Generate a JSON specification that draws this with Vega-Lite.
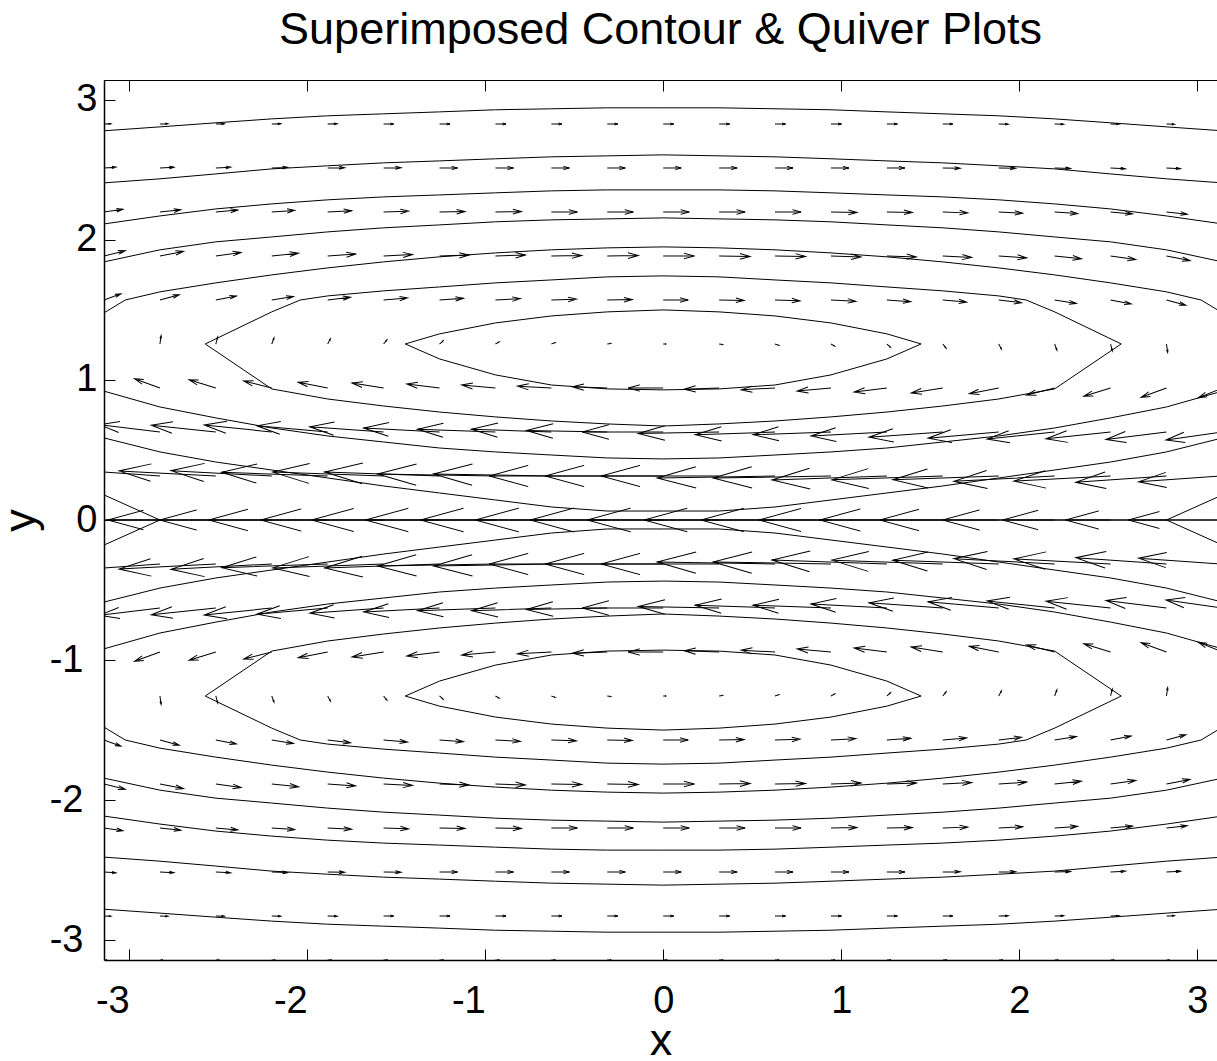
{
"$schema":"https://vega.github.io/schema/vega-lite/v6.json",
"width":1113,"height":880,"autosize":"none",
"padding":{"left":104,"top":80,"right":0,"bottom":101},
"background":"white",
"title":{"text":"Superimposed Contour & Quiver Plots","font":"Liberation Sans","fontSize":45,"fontWeight":"normal","color":"black","baseline":"alphabetic","offset":35,"dy":44,"anchor":"middle"},
"config":{"view":{"stroke":null}},
"datasets":{
"contours":[
{"c":"o1u","i":0,"x":-3.1416,"y":2.779},{"c":"o1u","i":1,"x":-2.8274,"y":2.807},{"c":"o1u","i":2,"x":-2.5133,"y":2.836},{"c":"o1u","i":3,"x":-2.1991,"y":2.864},{"c":"o1u","i":4,"x":-1.885,"y":2.886},{"c":"o1u","i":5,"x":-1.5708,"y":2.9},{"c":"o1u","i":6,"x":-1.2566,"y":2.914},{"c":"o1u","i":7,"x":-0.9425,"y":2.929},{"c":"o1u","i":8,"x":-0.6283,"y":2.936},{"c":"o1u","i":9,"x":-0.3142,"y":2.943},{"c":"o1u","i":10,"x":0,"y":2.943},{"c":"o1u","i":11,"x":0.3142,"y":2.943},{"c":"o1u","i":12,"x":0.6283,"y":2.936},{"c":"o1u","i":13,"x":0.9425,"y":2.929},{"c":"o1u","i":14,"x":1.2566,"y":2.914},{"c":"o1u","i":15,"x":1.5708,"y":2.9},{"c":"o1u","i":16,"x":1.885,"y":2.886},{"c":"o1u","i":17,"x":2.1991,"y":2.864},{"c":"o1u","i":18,"x":2.5133,"y":2.836},{"c":"o1u","i":19,"x":2.8274,"y":2.807},{"c":"o1u","i":20,"x":3.1416,"y":2.779},
{"c":"o1d","i":0,"x":-3.1416,"y":-2.779},{"c":"o1d","i":1,"x":-2.8274,"y":-2.807},{"c":"o1d","i":2,"x":-2.5133,"y":-2.836},{"c":"o1d","i":3,"x":-2.1991,"y":-2.864},{"c":"o1d","i":4,"x":-1.885,"y":-2.886},{"c":"o1d","i":5,"x":-1.5708,"y":-2.9},{"c":"o1d","i":6,"x":-1.2566,"y":-2.914},{"c":"o1d","i":7,"x":-0.9425,"y":-2.929},{"c":"o1d","i":8,"x":-0.6283,"y":-2.936},{"c":"o1d","i":9,"x":-0.3142,"y":-2.943},{"c":"o1d","i":10,"x":0,"y":-2.943},{"c":"o1d","i":11,"x":0.3142,"y":-2.943},{"c":"o1d","i":12,"x":0.6283,"y":-2.936},{"c":"o1d","i":13,"x":0.9425,"y":-2.929},{"c":"o1d","i":14,"x":1.2566,"y":-2.914},{"c":"o1d","i":15,"x":1.5708,"y":-2.9},{"c":"o1d","i":16,"x":1.885,"y":-2.886},{"c":"o1d","i":17,"x":2.1991,"y":-2.864},{"c":"o1d","i":18,"x":2.5133,"y":-2.836},{"c":"o1d","i":19,"x":2.8274,"y":-2.807},{"c":"o1d","i":20,"x":3.1416,"y":-2.779},
{"c":"o2u","i":0,"x":-3.1416,"y":2.407},{"c":"o2u","i":1,"x":-2.8274,"y":2.436},{"c":"o2u","i":2,"x":-2.5133,"y":2.471},{"c":"o2u","i":3,"x":-2.1991,"y":2.507},{"c":"o2u","i":4,"x":-1.885,"y":2.529},{"c":"o2u","i":5,"x":-1.5708,"y":2.55},{"c":"o2u","i":6,"x":-1.2566,"y":2.564},{"c":"o2u","i":7,"x":-0.9425,"y":2.579},{"c":"o2u","i":8,"x":-0.6283,"y":2.593},{"c":"o2u","i":9,"x":-0.3142,"y":2.6},{"c":"o2u","i":10,"x":0,"y":2.607},{"c":"o2u","i":11,"x":0.3142,"y":2.6},{"c":"o2u","i":12,"x":0.6283,"y":2.593},{"c":"o2u","i":13,"x":0.9425,"y":2.579},{"c":"o2u","i":14,"x":1.2566,"y":2.564},{"c":"o2u","i":15,"x":1.5708,"y":2.55},{"c":"o2u","i":16,"x":1.885,"y":2.529},{"c":"o2u","i":17,"x":2.1991,"y":2.507},{"c":"o2u","i":18,"x":2.5133,"y":2.471},{"c":"o2u","i":19,"x":2.8274,"y":2.436},{"c":"o2u","i":20,"x":3.1416,"y":2.407},
{"c":"o2d","i":0,"x":-3.1416,"y":-2.407},{"c":"o2d","i":1,"x":-2.8274,"y":-2.436},{"c":"o2d","i":2,"x":-2.5133,"y":-2.471},{"c":"o2d","i":3,"x":-2.1991,"y":-2.507},{"c":"o2d","i":4,"x":-1.885,"y":-2.529},{"c":"o2d","i":5,"x":-1.5708,"y":-2.55},{"c":"o2d","i":6,"x":-1.2566,"y":-2.564},{"c":"o2d","i":7,"x":-0.9425,"y":-2.579},{"c":"o2d","i":8,"x":-0.6283,"y":-2.593},{"c":"o2d","i":9,"x":-0.3142,"y":-2.6},{"c":"o2d","i":10,"x":0,"y":-2.607},{"c":"o2d","i":11,"x":0.3142,"y":-2.6},{"c":"o2d","i":12,"x":0.6283,"y":-2.593},{"c":"o2d","i":13,"x":0.9425,"y":-2.579},{"c":"o2d","i":14,"x":1.2566,"y":-2.564},{"c":"o2d","i":15,"x":1.5708,"y":-2.55},{"c":"o2d","i":16,"x":1.885,"y":-2.529},{"c":"o2d","i":17,"x":2.1991,"y":-2.507},{"c":"o2d","i":18,"x":2.5133,"y":-2.471},{"c":"o2d","i":19,"x":2.8274,"y":-2.436},{"c":"o2d","i":20,"x":3.1416,"y":-2.407},
{"c":"o3u","i":0,"x":-3.1416,"y":2.114},{"c":"o3u","i":1,"x":-2.8274,"y":2.171},{"c":"o3u","i":2,"x":-2.5133,"y":2.221},{"c":"o3u","i":3,"x":-2.1991,"y":2.257},{"c":"o3u","i":4,"x":-1.885,"y":2.286},{"c":"o3u","i":5,"x":-1.5708,"y":2.307},{"c":"o3u","i":6,"x":-1.2566,"y":2.321},{"c":"o3u","i":7,"x":-0.9425,"y":2.336},{"c":"o3u","i":8,"x":-0.6283,"y":2.35},{"c":"o3u","i":9,"x":-0.3142,"y":2.357},{"c":"o3u","i":10,"x":0,"y":2.357},{"c":"o3u","i":11,"x":0.3142,"y":2.357},{"c":"o3u","i":12,"x":0.6283,"y":2.35},{"c":"o3u","i":13,"x":0.9425,"y":2.336},{"c":"o3u","i":14,"x":1.2566,"y":2.321},{"c":"o3u","i":15,"x":1.5708,"y":2.307},{"c":"o3u","i":16,"x":1.885,"y":2.286},{"c":"o3u","i":17,"x":2.1991,"y":2.257},{"c":"o3u","i":18,"x":2.5133,"y":2.221},{"c":"o3u","i":19,"x":2.8274,"y":2.171},{"c":"o3u","i":20,"x":3.1416,"y":2.114},
{"c":"o3d","i":0,"x":-3.1416,"y":-2.114},{"c":"o3d","i":1,"x":-2.8274,"y":-2.171},{"c":"o3d","i":2,"x":-2.5133,"y":-2.221},{"c":"o3d","i":3,"x":-2.1991,"y":-2.257},{"c":"o3d","i":4,"x":-1.885,"y":-2.286},{"c":"o3d","i":5,"x":-1.5708,"y":-2.307},{"c":"o3d","i":6,"x":-1.2566,"y":-2.321},{"c":"o3d","i":7,"x":-0.9425,"y":-2.336},{"c":"o3d","i":8,"x":-0.6283,"y":-2.35},{"c":"o3d","i":9,"x":-0.3142,"y":-2.357},{"c":"o3d","i":10,"x":0,"y":-2.357},{"c":"o3d","i":11,"x":0.3142,"y":-2.357},{"c":"o3d","i":12,"x":0.6283,"y":-2.35},{"c":"o3d","i":13,"x":0.9425,"y":-2.336},{"c":"o3d","i":14,"x":1.2566,"y":-2.321},{"c":"o3d","i":15,"x":1.5708,"y":-2.307},{"c":"o3d","i":16,"x":1.885,"y":-2.286},{"c":"o3d","i":17,"x":2.1991,"y":-2.257},{"c":"o3d","i":18,"x":2.5133,"y":-2.221},{"c":"o3d","i":19,"x":2.8274,"y":-2.171},{"c":"o3d","i":20,"x":3.1416,"y":-2.114},
{"c":"o4u","i":0,"x":-3.1416,"y":1.843},{"c":"o4u","i":1,"x":-2.8274,"y":1.929},{"c":"o4u","i":2,"x":-2.5133,"y":1.986},{"c":"o4u","i":3,"x":-2.1991,"y":2.021},{"c":"o4u","i":4,"x":-1.885,"y":2.057},{"c":"o4u","i":5,"x":-1.5708,"y":2.086},{"c":"o4u","i":6,"x":-1.2566,"y":2.107},{"c":"o4u","i":7,"x":-0.9425,"y":2.129},{"c":"o4u","i":8,"x":-0.6283,"y":2.143},{"c":"o4u","i":9,"x":-0.3142,"y":2.15},{"c":"o4u","i":10,"x":0,"y":2.157},{"c":"o4u","i":11,"x":0.3142,"y":2.15},{"c":"o4u","i":12,"x":0.6283,"y":2.143},{"c":"o4u","i":13,"x":0.9425,"y":2.129},{"c":"o4u","i":14,"x":1.2566,"y":2.107},{"c":"o4u","i":15,"x":1.5708,"y":2.086},{"c":"o4u","i":16,"x":1.885,"y":2.057},{"c":"o4u","i":17,"x":2.1991,"y":2.021},{"c":"o4u","i":18,"x":2.5133,"y":1.986},{"c":"o4u","i":19,"x":2.8274,"y":1.929},{"c":"o4u","i":20,"x":3.1416,"y":1.843},
{"c":"o4d","i":0,"x":-3.1416,"y":-1.843},{"c":"o4d","i":1,"x":-2.8274,"y":-1.929},{"c":"o4d","i":2,"x":-2.5133,"y":-1.986},{"c":"o4d","i":3,"x":-2.1991,"y":-2.021},{"c":"o4d","i":4,"x":-1.885,"y":-2.057},{"c":"o4d","i":5,"x":-1.5708,"y":-2.086},{"c":"o4d","i":6,"x":-1.2566,"y":-2.107},{"c":"o4d","i":7,"x":-0.9425,"y":-2.129},{"c":"o4d","i":8,"x":-0.6283,"y":-2.143},{"c":"o4d","i":9,"x":-0.3142,"y":-2.15},{"c":"o4d","i":10,"x":0,"y":-2.157},{"c":"o4d","i":11,"x":0.3142,"y":-2.15},{"c":"o4d","i":12,"x":0.6283,"y":-2.143},{"c":"o4d","i":13,"x":0.9425,"y":-2.129},{"c":"o4d","i":14,"x":1.2566,"y":-2.107},{"c":"o4d","i":15,"x":1.5708,"y":-2.086},{"c":"o4d","i":16,"x":1.885,"y":-2.057},{"c":"o4d","i":17,"x":2.1991,"y":-2.021},{"c":"o4d","i":18,"x":2.5133,"y":-1.986},{"c":"o4d","i":19,"x":2.8274,"y":-1.929},{"c":"o4d","i":20,"x":3.1416,"y":-1.843},
{"c":"o5u","i":0,"x":-3.1416,"y":1.479},{"c":"o5u","i":1,"x":-3.022,"y":1.5708},{"c":"o5u","i":2,"x":-2.8274,"y":1.629},{"c":"o5u","i":3,"x":-2.5133,"y":1.693},{"c":"o5u","i":4,"x":-2.1991,"y":1.75},{"c":"o5u","i":5,"x":-1.885,"y":1.8},{"c":"o5u","i":6,"x":-1.5708,"y":1.843},{"c":"o5u","i":7,"x":-1.2566,"y":1.879},{"c":"o5u","i":8,"x":-0.9425,"y":1.907},{"c":"o5u","i":9,"x":-0.6283,"y":1.929},{"c":"o5u","i":10,"x":-0.3142,"y":1.943},{"c":"o5u","i":11,"x":0,"y":1.95},{"c":"o5u","i":12,"x":0.3142,"y":1.943},{"c":"o5u","i":13,"x":0.6283,"y":1.929},{"c":"o5u","i":14,"x":0.9425,"y":1.907},{"c":"o5u","i":15,"x":1.2566,"y":1.879},{"c":"o5u","i":16,"x":1.5708,"y":1.843},{"c":"o5u","i":17,"x":1.885,"y":1.8},{"c":"o5u","i":18,"x":2.1991,"y":1.75},{"c":"o5u","i":19,"x":2.5133,"y":1.693},{"c":"o5u","i":20,"x":2.8274,"y":1.629},{"c":"o5u","i":21,"x":3.022,"y":1.5708},{"c":"o5u","i":22,"x":3.1416,"y":1.479},
{"c":"o5d","i":0,"x":-3.1416,"y":-1.479},{"c":"o5d","i":1,"x":-3.022,"y":-1.5708},{"c":"o5d","i":2,"x":-2.8274,"y":-1.629},{"c":"o5d","i":3,"x":-2.5133,"y":-1.693},{"c":"o5d","i":4,"x":-2.1991,"y":-1.75},{"c":"o5d","i":5,"x":-1.885,"y":-1.8},{"c":"o5d","i":6,"x":-1.5708,"y":-1.843},{"c":"o5d","i":7,"x":-1.2566,"y":-1.879},{"c":"o5d","i":8,"x":-0.9425,"y":-1.907},{"c":"o5d","i":9,"x":-0.6283,"y":-1.929},{"c":"o5d","i":10,"x":-0.3142,"y":-1.943},{"c":"o5d","i":11,"x":0,"y":-1.95},{"c":"o5d","i":12,"x":0.3142,"y":-1.943},{"c":"o5d","i":13,"x":0.6283,"y":-1.929},{"c":"o5d","i":14,"x":0.9425,"y":-1.907},{"c":"o5d","i":15,"x":1.2566,"y":-1.879},{"c":"o5d","i":16,"x":1.5708,"y":-1.843},{"c":"o5d","i":17,"x":1.885,"y":-1.8},{"c":"o5d","i":18,"x":2.1991,"y":-1.75},{"c":"o5d","i":19,"x":2.5133,"y":-1.693},{"c":"o5d","i":20,"x":2.8274,"y":-1.629},{"c":"o5d","i":21,"x":3.022,"y":-1.5708},{"c":"o5d","i":22,"x":3.1416,"y":-1.479},
{"c":"b1u","i":0,"x":-3.1416,"y":0.92},{"c":"b1u","i":1,"x":-2.8274,"y":0.807},{"c":"b1u","i":2,"x":-2.5133,"y":0.729},{"c":"b1u","i":3,"x":-2.1991,"y":0.657},{"c":"b1u","i":4,"x":-1.885,"y":0.6},{"c":"b1u","i":5,"x":-1.5708,"y":0.557},{"c":"b1u","i":6,"x":-1.2566,"y":0.514},{"c":"b1u","i":7,"x":-0.9425,"y":0.486},{"c":"b1u","i":8,"x":-0.6283,"y":0.464},{"c":"b1u","i":9,"x":-0.3142,"y":0.443},{"c":"b1u","i":10,"x":0,"y":0.436},{"c":"b1u","i":11,"x":0.3142,"y":0.443},{"c":"b1u","i":12,"x":0.6283,"y":0.464},{"c":"b1u","i":13,"x":0.9425,"y":0.486},{"c":"b1u","i":14,"x":1.2566,"y":0.514},{"c":"b1u","i":15,"x":1.5708,"y":0.557},{"c":"b1u","i":16,"x":1.885,"y":0.6},{"c":"b1u","i":17,"x":2.1991,"y":0.657},{"c":"b1u","i":18,"x":2.5133,"y":0.729},{"c":"b1u","i":19,"x":2.8274,"y":0.807},{"c":"b1u","i":20,"x":3.1416,"y":0.92},
{"c":"b1d","i":0,"x":-3.1416,"y":-0.92},{"c":"b1d","i":1,"x":-2.8274,"y":-0.807},{"c":"b1d","i":2,"x":-2.5133,"y":-0.729},{"c":"b1d","i":3,"x":-2.1991,"y":-0.657},{"c":"b1d","i":4,"x":-1.885,"y":-0.6},{"c":"b1d","i":5,"x":-1.5708,"y":-0.557},{"c":"b1d","i":6,"x":-1.2566,"y":-0.514},{"c":"b1d","i":7,"x":-0.9425,"y":-0.486},{"c":"b1d","i":8,"x":-0.6283,"y":-0.464},{"c":"b1d","i":9,"x":-0.3142,"y":-0.443},{"c":"b1d","i":10,"x":0,"y":-0.436},{"c":"b1d","i":11,"x":0.3142,"y":-0.443},{"c":"b1d","i":12,"x":0.6283,"y":-0.464},{"c":"b1d","i":13,"x":0.9425,"y":-0.486},{"c":"b1d","i":14,"x":1.2566,"y":-0.514},{"c":"b1d","i":15,"x":1.5708,"y":-0.557},{"c":"b1d","i":16,"x":1.885,"y":-0.6},{"c":"b1d","i":17,"x":2.1991,"y":-0.657},{"c":"b1d","i":18,"x":2.5133,"y":-0.729},{"c":"b1d","i":19,"x":2.8274,"y":-0.807},{"c":"b1d","i":20,"x":3.1416,"y":-0.92},
{"c":"b2u","i":0,"x":-3.1416,"y":0.586},{"c":"b2u","i":1,"x":-2.8274,"y":0.486},{"c":"b2u","i":2,"x":-2.5133,"y":0.414},{"c":"b2u","i":3,"x":-2.1991,"y":0.357},{"c":"b2u","i":4,"x":-1.885,"y":0.3},{"c":"b2u","i":5,"x":-1.5708,"y":0.243},{"c":"b2u","i":6,"x":-1.2566,"y":0.193},{"c":"b2u","i":7,"x":-0.9425,"y":0.143},{"c":"b2u","i":8,"x":-0.6283,"y":0.093},{"c":"b2u","i":9,"x":-0.3142,"y":0.064},{"c":"b2u","i":10,"x":0,"y":0.064},{"c":"b2u","i":11,"x":0.3142,"y":0.064},{"c":"b2u","i":12,"x":0.6283,"y":0.093},{"c":"b2u","i":13,"x":0.9425,"y":0.143},{"c":"b2u","i":14,"x":1.2566,"y":0.193},{"c":"b2u","i":15,"x":1.5708,"y":0.243},{"c":"b2u","i":16,"x":1.885,"y":0.3},{"c":"b2u","i":17,"x":2.1991,"y":0.357},{"c":"b2u","i":18,"x":2.5133,"y":0.414},{"c":"b2u","i":19,"x":2.8274,"y":0.486},{"c":"b2u","i":20,"x":3.1416,"y":0.586},
{"c":"b2d","i":0,"x":-3.1416,"y":-0.586},{"c":"b2d","i":1,"x":-2.8274,"y":-0.486},{"c":"b2d","i":2,"x":-2.5133,"y":-0.414},{"c":"b2d","i":3,"x":-2.1991,"y":-0.357},{"c":"b2d","i":4,"x":-1.885,"y":-0.3},{"c":"b2d","i":5,"x":-1.5708,"y":-0.243},{"c":"b2d","i":6,"x":-1.2566,"y":-0.193},{"c":"b2d","i":7,"x":-0.9425,"y":-0.143},{"c":"b2d","i":8,"x":-0.6283,"y":-0.093},{"c":"b2d","i":9,"x":-0.3142,"y":-0.064},{"c":"b2d","i":10,"x":0,"y":-0.064},{"c":"b2d","i":11,"x":0.3142,"y":-0.064},{"c":"b2d","i":12,"x":0.6283,"y":-0.093},{"c":"b2d","i":13,"x":0.9425,"y":-0.143},{"c":"b2d","i":14,"x":1.2566,"y":-0.193},{"c":"b2d","i":15,"x":1.5708,"y":-0.243},{"c":"b2d","i":16,"x":1.885,"y":-0.3},{"c":"b2d","i":17,"x":2.1991,"y":-0.357},{"c":"b2d","i":18,"x":2.5133,"y":-0.414},{"c":"b2d","i":19,"x":2.8274,"y":-0.486},{"c":"b2d","i":20,"x":3.1416,"y":-0.586},
{"c":"ocu","i":0,"x":-2.573,"y":1.257},{"c":"ocu","i":1,"x":-2.1991,"y":1.486},{"c":"ocu","i":2,"x":-2.039,"y":1.5708},{"c":"ocu","i":3,"x":-1.885,"y":1.6},{"c":"ocu","i":4,"x":-1.5708,"y":1.636},{"c":"ocu","i":5,"x":-1.2566,"y":1.664},{"c":"ocu","i":6,"x":-0.9425,"y":1.693},{"c":"ocu","i":7,"x":-0.6283,"y":1.714},{"c":"ocu","i":8,"x":-0.3142,"y":1.736},{"c":"ocu","i":9,"x":0,"y":1.743},{"c":"ocu","i":10,"x":0.3142,"y":1.736},{"c":"ocu","i":11,"x":0.6283,"y":1.714},{"c":"ocu","i":12,"x":0.9425,"y":1.693},{"c":"ocu","i":13,"x":1.2566,"y":1.664},{"c":"ocu","i":14,"x":1.5708,"y":1.636},{"c":"ocu","i":15,"x":1.885,"y":1.6},{"c":"ocu","i":16,"x":2.039,"y":1.5708},{"c":"ocu","i":17,"x":2.1991,"y":1.486},{"c":"ocu","i":18,"x":2.573,"y":1.257},{"c":"ocu","i":19,"x":2.1991,"y":0.936},{"c":"ocu","i":20,"x":1.885,"y":0.864},{"c":"ocu","i":21,"x":1.5708,"y":0.814},{"c":"ocu","i":22,"x":1.2566,"y":0.771},{"c":"ocu","i":23,"x":0.9425,"y":0.736},{"c":"ocu","i":24,"x":0.6283,"y":0.707},{"c":"ocu","i":25,"x":0.3142,"y":0.686},{"c":"ocu","i":26,"x":0,"y":0.671},{"c":"ocu","i":27,"x":-0.3142,"y":0.686},{"c":"ocu","i":28,"x":-0.6283,"y":0.707},{"c":"ocu","i":29,"x":-0.9425,"y":0.736},{"c":"ocu","i":30,"x":-1.2566,"y":0.771},{"c":"ocu","i":31,"x":-1.5708,"y":0.814},{"c":"ocu","i":32,"x":-1.885,"y":0.864},{"c":"ocu","i":33,"x":-2.1991,"y":0.936},{"c":"ocu","i":34,"x":-2.573,"y":1.257},
{"c":"ocd","i":0,"x":-2.573,"y":-1.257},{"c":"ocd","i":1,"x":-2.1991,"y":-1.486},{"c":"ocd","i":2,"x":-2.039,"y":-1.5708},{"c":"ocd","i":3,"x":-1.885,"y":-1.6},{"c":"ocd","i":4,"x":-1.5708,"y":-1.636},{"c":"ocd","i":5,"x":-1.2566,"y":-1.664},{"c":"ocd","i":6,"x":-0.9425,"y":-1.693},{"c":"ocd","i":7,"x":-0.6283,"y":-1.714},{"c":"ocd","i":8,"x":-0.3142,"y":-1.736},{"c":"ocd","i":9,"x":0,"y":-1.743},{"c":"ocd","i":10,"x":0.3142,"y":-1.736},{"c":"ocd","i":11,"x":0.6283,"y":-1.714},{"c":"ocd","i":12,"x":0.9425,"y":-1.693},{"c":"ocd","i":13,"x":1.2566,"y":-1.664},{"c":"ocd","i":14,"x":1.5708,"y":-1.636},{"c":"ocd","i":15,"x":1.885,"y":-1.6},{"c":"ocd","i":16,"x":2.039,"y":-1.5708},{"c":"ocd","i":17,"x":2.1991,"y":-1.486},{"c":"ocd","i":18,"x":2.573,"y":-1.257},{"c":"ocd","i":19,"x":2.1991,"y":-0.936},{"c":"ocd","i":20,"x":1.885,"y":-0.864},{"c":"ocd","i":21,"x":1.5708,"y":-0.814},{"c":"ocd","i":22,"x":1.2566,"y":-0.771},{"c":"ocd","i":23,"x":0.9425,"y":-0.736},{"c":"ocd","i":24,"x":0.6283,"y":-0.707},{"c":"ocd","i":25,"x":0.3142,"y":-0.686},{"c":"ocd","i":26,"x":0,"y":-0.671},{"c":"ocd","i":27,"x":-0.3142,"y":-0.686},{"c":"ocd","i":28,"x":-0.6283,"y":-0.707},{"c":"ocd","i":29,"x":-0.9425,"y":-0.736},{"c":"ocd","i":30,"x":-1.2566,"y":-0.771},{"c":"ocd","i":31,"x":-1.5708,"y":-0.814},{"c":"ocd","i":32,"x":-1.885,"y":-0.864},{"c":"ocd","i":33,"x":-2.1991,"y":-0.936},{"c":"ocd","i":34,"x":-2.573,"y":-1.257},
{"c":"icu","i":0,"x":-1.449,"y":1.257},{"c":"icu","i":1,"x":-1.2566,"y":1.329},{"c":"icu","i":2,"x":-0.9425,"y":1.407},{"c":"icu","i":3,"x":-0.6283,"y":1.457},{"c":"icu","i":4,"x":-0.3142,"y":1.486},{"c":"icu","i":5,"x":0,"y":1.5},{"c":"icu","i":6,"x":0.3142,"y":1.486},{"c":"icu","i":7,"x":0.6283,"y":1.457},{"c":"icu","i":8,"x":0.9425,"y":1.407},{"c":"icu","i":9,"x":1.2566,"y":1.329},{"c":"icu","i":10,"x":1.449,"y":1.257},{"c":"icu","i":11,"x":1.2566,"y":1.15},{"c":"icu","i":12,"x":0.9425,"y":1.036},{"c":"icu","i":13,"x":0.6283,"y":0.964},{"c":"icu","i":14,"x":0.3142,"y":0.936},{"c":"icu","i":15,"x":0,"y":0.929},{"c":"icu","i":16,"x":-0.3142,"y":0.936},{"c":"icu","i":17,"x":-0.6283,"y":0.964},{"c":"icu","i":18,"x":-0.9425,"y":1.036},{"c":"icu","i":19,"x":-1.2566,"y":1.15},{"c":"icu","i":20,"x":-1.449,"y":1.257},
{"c":"icd","i":0,"x":-1.449,"y":-1.257},{"c":"icd","i":1,"x":-1.2566,"y":-1.329},{"c":"icd","i":2,"x":-0.9425,"y":-1.407},{"c":"icd","i":3,"x":-0.6283,"y":-1.457},{"c":"icd","i":4,"x":-0.3142,"y":-1.486},{"c":"icd","i":5,"x":0,"y":-1.5},{"c":"icd","i":6,"x":0.3142,"y":-1.486},{"c":"icd","i":7,"x":0.6283,"y":-1.457},{"c":"icd","i":8,"x":0.9425,"y":-1.407},{"c":"icd","i":9,"x":1.2566,"y":-1.329},{"c":"icd","i":10,"x":1.449,"y":-1.257},{"c":"icd","i":11,"x":1.2566,"y":-1.15},{"c":"icd","i":12,"x":0.9425,"y":-1.036},{"c":"icd","i":13,"x":0.6283,"y":-0.964},{"c":"icd","i":14,"x":0.3142,"y":-0.936},{"c":"icd","i":15,"x":0,"y":-0.929},{"c":"icd","i":16,"x":-0.3142,"y":-0.936},{"c":"icd","i":17,"x":-0.6283,"y":-0.964},{"c":"icd","i":18,"x":-0.9425,"y":-1.036},{"c":"icd","i":19,"x":-1.2566,"y":-1.15},{"c":"icd","i":20,"x":-1.449,"y":-1.257},
{"c":"sl","i":0,"x":-3.1416,"y":0.179},{"c":"sl","i":1,"x":-2.8274,"y":0},{"c":"sl","i":2,"x":-3.1416,"y":-0.179},
{"c":"sr","i":0,"x":3.1416,"y":0.179},{"c":"sr","i":1,"x":2.8274,"y":0},{"c":"sr","i":2,"x":3.1416,"y":-0.179},
{"c":"z","i":0,"x":-3.1416,"y":0},{"c":"z","i":1,"x":3.1416,"y":0}
],
"arrows":[
{"x":-3.1416,"y":3.1416,"a":0,"s":0.3},{"x":-2.8274,"y":3.1416,"a":0,"s":0.3},{"x":-2.5133,"y":3.1416,"a":0,"s":0.35},{"x":-2.1991,"y":3.1416,"a":0,"s":0.35},{"x":-1.885,"y":3.1416,"a":0,"s":0.4},{"x":-1.5708,"y":3.1416,"a":0,"s":0.4},{"x":-1.2566,"y":3.1416,"a":0,"s":0.4},{"x":-0.9425,"y":3.1416,"a":0,"s":0.4},{"x":-0.6283,"y":3.1416,"a":0,"s":0.4},{"x":-0.3142,"y":3.1416,"a":0,"s":0.4},{"x":0,"y":3.1416,"a":0,"s":0.4},{"x":0.3142,"y":3.1416,"a":0,"s":0.4},{"x":0.6283,"y":3.1416,"a":0,"s":0.4},{"x":0.9425,"y":3.1416,"a":0,"s":0.4},{"x":1.2566,"y":3.1416,"a":0,"s":0.4},{"x":1.5708,"y":3.1416,"a":0,"s":0.4},{"x":1.885,"y":3.1416,"a":0,"s":0.4},{"x":2.1991,"y":3.1416,"a":0,"s":0.35},{"x":2.5133,"y":3.1416,"a":0,"s":0.35},{"x":2.8274,"y":3.1416,"a":0,"s":0.3},{"x":3.1416,"y":3.1416,"a":0,"s":0.3},
{"x":-3.1416,"y":2.8274,"a":2,"s":0.7},{"x":-2.8274,"y":2.8274,"a":2,"s":0.8},{"x":-2.5133,"y":2.8274,"a":1,"s":0.85},{"x":-2.1991,"y":2.8274,"a":1,"s":0.9},{"x":-1.885,"y":2.8274,"a":1,"s":0.95},{"x":-1.5708,"y":2.8274,"a":0,"s":1},{"x":-1.2566,"y":2.8274,"a":0,"s":1.05},{"x":-0.9425,"y":2.8274,"a":0,"s":1.05},{"x":-0.6283,"y":2.8274,"a":0,"s":1.05},{"x":-0.3142,"y":2.8274,"a":0,"s":1.05},{"x":0,"y":2.8274,"a":0,"s":1.05},{"x":0.3142,"y":2.8274,"a":0,"s":1.05},{"x":0.6283,"y":2.8274,"a":0,"s":1.05},{"x":0.9425,"y":2.8274,"a":0,"s":1.05},{"x":1.2566,"y":2.8274,"a":0,"s":1.05},{"x":1.5708,"y":2.8274,"a":0,"s":1},{"x":1.885,"y":2.8274,"a":-1,"s":0.95},{"x":2.1991,"y":2.8274,"a":-1,"s":0.9},{"x":2.5133,"y":2.8274,"a":-1,"s":0.85},{"x":2.8274,"y":2.8274,"a":-2,"s":0.8},{"x":3.1416,"y":2.8274,"a":-2,"s":0.7},
{"x":-3.1416,"y":2.5133,"a":4,"s":1.2},{"x":-2.8274,"y":2.5133,"a":3,"s":1.4},{"x":-2.5133,"y":2.5133,"a":3,"s":1.5},{"x":-2.1991,"y":2.5133,"a":2,"s":1.6},{"x":-1.885,"y":2.5133,"a":1,"s":1.7},{"x":-1.5708,"y":2.5133,"a":1,"s":1.75},{"x":-1.2566,"y":2.5133,"a":0,"s":1.8},{"x":-0.9425,"y":2.5133,"a":0,"s":1.8},{"x":-0.6283,"y":2.5133,"a":0,"s":1.8},{"x":-0.3142,"y":2.5133,"a":0,"s":1.8},{"x":0,"y":2.5133,"a":0,"s":1.8},{"x":0.3142,"y":2.5133,"a":0,"s":1.8},{"x":0.6283,"y":2.5133,"a":0,"s":1.8},{"x":0.9425,"y":2.5133,"a":0,"s":1.8},{"x":1.2566,"y":2.5133,"a":0,"s":1.8},{"x":1.5708,"y":2.5133,"a":-1,"s":1.75},{"x":1.885,"y":2.5133,"a":-1,"s":1.7},{"x":2.1991,"y":2.5133,"a":-2,"s":1.6},{"x":2.5133,"y":2.5133,"a":-3,"s":1.5},{"x":2.8274,"y":2.5133,"a":-3,"s":1.4},{"x":3.1416,"y":2.5133,"a":-4,"s":1.2},
{"x":-3.1416,"y":2.1991,"a":8,"s":1.9},{"x":-2.8274,"y":2.1991,"a":6,"s":2.1},{"x":-2.5133,"y":2.1991,"a":5,"s":2.2},{"x":-2.1991,"y":2.1991,"a":4,"s":2.3},{"x":-1.885,"y":2.1991,"a":3,"s":2.4},{"x":-1.5708,"y":2.1991,"a":2,"s":2.5},{"x":-1.2566,"y":2.1991,"a":1,"s":2.55},{"x":-0.9425,"y":2.1991,"a":1,"s":2.6},{"x":-0.6283,"y":2.1991,"a":0,"s":2.6},{"x":-0.3142,"y":2.1991,"a":0,"s":2.6},{"x":0,"y":2.1991,"a":0,"s":2.6},{"x":0.3142,"y":2.1991,"a":0,"s":2.6},{"x":0.6283,"y":2.1991,"a":0,"s":2.6},{"x":0.9425,"y":2.1991,"a":-1,"s":2.6},{"x":1.2566,"y":2.1991,"a":-1,"s":2.55},{"x":1.5708,"y":2.1991,"a":-2,"s":2.5},{"x":1.885,"y":2.1991,"a":-3,"s":2.4},{"x":2.1991,"y":2.1991,"a":-4,"s":2.3},{"x":2.5133,"y":2.1991,"a":-5,"s":2.2},{"x":2.8274,"y":2.1991,"a":-6,"s":2.1},{"x":3.1416,"y":2.1991,"a":-8,"s":1.9},
{"x":-3.1416,"y":1.885,"a":14,"s":2.2},{"x":-2.8274,"y":1.885,"a":11,"s":2.4},{"x":-2.5133,"y":1.885,"a":8,"s":2.55},{"x":-2.1991,"y":1.885,"a":6,"s":2.7},{"x":-1.885,"y":1.885,"a":4,"s":2.8},{"x":-1.5708,"y":1.885,"a":3,"s":2.9},{"x":-1.2566,"y":1.885,"a":2,"s":2.95},{"x":-0.9425,"y":1.885,"a":2,"s":3},{"x":-0.6283,"y":1.885,"a":1,"s":3.05},{"x":-0.3142,"y":1.885,"a":1,"s":3.1},{"x":0,"y":1.885,"a":0,"s":3.1},{"x":0.3142,"y":1.885,"a":-1,"s":3.1},{"x":0.6283,"y":1.885,"a":-1,"s":3.05},{"x":0.9425,"y":1.885,"a":-2,"s":3},{"x":1.2566,"y":1.885,"a":-2,"s":2.95},{"x":1.5708,"y":1.885,"a":-3,"s":2.9},{"x":1.885,"y":1.885,"a":-4,"s":2.8},{"x":2.1991,"y":1.885,"a":-6,"s":2.7},{"x":2.5133,"y":1.885,"a":-8,"s":2.55},{"x":2.8274,"y":1.885,"a":-11,"s":2.4},{"x":3.1416,"y":1.885,"a":-14,"s":2.2},
{"x":-3.1416,"y":1.5708,"a":20,"s":1.8},{"x":-2.8274,"y":1.5708,"a":15,"s":2},{"x":-2.5133,"y":1.5708,"a":11,"s":2.1},{"x":-2.1991,"y":1.5708,"a":9,"s":2.2},{"x":-1.885,"y":1.5708,"a":7,"s":2.3},{"x":-1.5708,"y":1.5708,"a":5,"s":2.4},{"x":-1.2566,"y":1.5708,"a":4,"s":2.4},{"x":-0.9425,"y":1.5708,"a":3,"s":2.5},{"x":-0.6283,"y":1.5708,"a":2,"s":2.5},{"x":-0.3142,"y":1.5708,"a":1,"s":2.5},{"x":0,"y":1.5708,"a":0,"s":2.5},{"x":0.3142,"y":1.5708,"a":-1,"s":2.5},{"x":0.6283,"y":1.5708,"a":-2,"s":2.5},{"x":0.9425,"y":1.5708,"a":-3,"s":2.5},{"x":1.2566,"y":1.5708,"a":-4,"s":2.4},{"x":1.5708,"y":1.5708,"a":-5,"s":2.4},{"x":1.885,"y":1.5708,"a":-7,"s":2.3},{"x":2.1991,"y":1.5708,"a":-9,"s":2.2},{"x":2.5133,"y":1.5708,"a":-11,"s":2.1},{"x":2.8274,"y":1.5708,"a":-15,"s":2},{"x":3.1416,"y":1.5708,"a":-20,"s":1.8},
{"x":-3.1416,"y":1.2566,"a":90,"s":0.85},{"x":-2.8274,"y":1.2566,"a":82,"s":0.85},{"x":-2.5133,"y":1.2566,"a":76,"s":0.72},{"x":-2.1991,"y":1.2566,"a":70,"s":0.65},{"x":-1.885,"y":1.2566,"a":62,"s":0.58},{"x":-1.5708,"y":1.2566,"a":52,"s":0.53},{"x":-1.2566,"y":1.2566,"a":42,"s":0.48},{"x":-0.9425,"y":1.2566,"a":30,"s":0.43},{"x":-0.6283,"y":1.2566,"a":20,"s":0.4},{"x":-0.3142,"y":1.2566,"a":10,"s":0.35},{"x":0,"y":1.2566,"a":0,"s":0.3},{"x":0.3142,"y":1.2566,"a":-10,"s":0.35},{"x":0.6283,"y":1.2566,"a":-20,"s":0.4},{"x":0.9425,"y":1.2566,"a":-30,"s":0.43},{"x":1.2566,"y":1.2566,"a":-42,"s":0.48},{"x":1.5708,"y":1.2566,"a":-52,"s":0.53},{"x":1.885,"y":1.2566,"a":-62,"s":0.58},{"x":2.1991,"y":1.2566,"a":-70,"s":0.65},{"x":2.5133,"y":1.2566,"a":-76,"s":0.72},{"x":2.8274,"y":1.2566,"a":-82,"s":0.85},{"x":3.1416,"y":1.2566,"a":-90,"s":0.85},
{"x":-3.1416,"y":0.9425,"a":158,"s":2.6},{"x":-2.8274,"y":0.9425,"a":160,"s":2.7},{"x":-2.5133,"y":0.9425,"a":163,"s":2.8},{"x":-2.1991,"y":0.9425,"a":166,"s":2.9},{"x":-1.885,"y":0.9425,"a":169,"s":3},{"x":-1.5708,"y":0.9425,"a":171,"s":3.2},{"x":-1.2566,"y":0.9425,"a":173,"s":3.3},{"x":-0.9425,"y":0.9425,"a":175,"s":3.4},{"x":-0.6283,"y":0.9425,"a":177,"s":3.4},{"x":-0.3142,"y":0.9425,"a":178,"s":3.5},{"x":0,"y":0.9425,"a":180,"s":3.5},{"x":0.3142,"y":0.9425,"a":182,"s":3.5},{"x":0.6283,"y":0.9425,"a":183,"s":3.4},{"x":0.9425,"y":0.9425,"a":185,"s":3.4},{"x":1.2566,"y":0.9425,"a":187,"s":3.3},{"x":1.5708,"y":0.9425,"a":189,"s":3.2},{"x":1.885,"y":0.9425,"a":191,"s":3},{"x":2.1991,"y":0.9425,"a":194,"s":2.9},{"x":2.5133,"y":0.9425,"a":197,"s":2.8},{"x":2.8274,"y":0.9425,"a":200,"s":2.7},{"x":3.1416,"y":0.9425,"a":202,"s":2.6},
{"x":-3.1416,"y":0.6283,"a":172,"s":5.7},{"x":-2.8274,"y":0.6283,"a":173,"s":6.1},{"x":-2.5133,"y":0.6283,"a":174,"s":6.5},{"x":-2.1991,"y":0.6283,"a":174,"s":6.8},{"x":-1.885,"y":0.6283,"a":175,"s":7.1},{"x":-1.5708,"y":0.6283,"a":176,"s":7.4},{"x":-1.2566,"y":0.6283,"a":177,"s":7.6},{"x":-0.9425,"y":0.6283,"a":178,"s":7.8},{"x":-0.6283,"y":0.6283,"a":178,"s":8},{"x":-0.3142,"y":0.6283,"a":179,"s":8.1},{"x":0,"y":0.6283,"a":180,"s":8.1},{"x":0.3142,"y":0.6283,"a":181,"s":8.1},{"x":0.6283,"y":0.6283,"a":182,"s":8},{"x":0.9425,"y":0.6283,"a":182,"s":7.8},{"x":1.2566,"y":0.6283,"a":183,"s":7.6},{"x":1.5708,"y":0.6283,"a":184,"s":7.4},{"x":1.885,"y":0.6283,"a":185,"s":7.1},{"x":2.1991,"y":0.6283,"a":186,"s":6.8},{"x":2.5133,"y":0.6283,"a":186,"s":6.5},{"x":2.8274,"y":0.6283,"a":187,"s":6.1},{"x":3.1416,"y":0.6283,"a":188,"s":5.7},
{"x":-3.1416,"y":0.3142,"a":176,"s":8.4},{"x":-2.8274,"y":0.3142,"a":176,"s":9.1},{"x":-2.5133,"y":0.3142,"a":177,"s":9.7},{"x":-2.1991,"y":0.3142,"a":177,"s":10.1},{"x":-1.885,"y":0.3142,"a":178,"s":10.6},{"x":-1.5708,"y":0.3142,"a":178,"s":11.1},{"x":-1.2566,"y":0.3142,"a":178,"s":11.5},{"x":-0.9425,"y":0.3142,"a":179,"s":11.8},{"x":-0.6283,"y":0.3142,"a":179,"s":11.8},{"x":-0.3142,"y":0.3142,"a":180,"s":11.8},{"x":0,"y":0.3142,"a":180,"s":11.8},{"x":0.3142,"y":0.3142,"a":180,"s":11.8},{"x":0.6283,"y":0.3142,"a":181,"s":11.8},{"x":0.9425,"y":0.3142,"a":181,"s":11.8},{"x":1.2566,"y":0.3142,"a":182,"s":11.5},{"x":1.5708,"y":0.3142,"a":182,"s":11.1},{"x":1.885,"y":0.3142,"a":182,"s":10.6},{"x":2.1991,"y":0.3142,"a":183,"s":10.1},{"x":2.5133,"y":0.3142,"a":183,"s":9.7},{"x":2.8274,"y":0.3142,"a":184,"s":9.1},{"x":3.1416,"y":0.3142,"a":184,"s":8.4},
{"x":-3.1416,"y":0,"a":180,"s":9.4},{"x":-2.8274,"y":0,"a":180,"s":10.1},{"x":-2.5133,"y":0,"a":180,"s":10.8},{"x":-2.1991,"y":0,"a":180,"s":11.2},{"x":-1.885,"y":0,"a":180,"s":11.9},{"x":-1.5708,"y":0,"a":180,"s":12.3},{"x":-1.2566,"y":0,"a":180,"s":12.8},{"x":-0.9425,"y":0,"a":180,"s":13},{"x":-0.6283,"y":0,"a":180,"s":13.1},{"x":-0.3142,"y":0,"a":180,"s":13.2},{"x":0,"y":0,"a":180,"s":13.3},{"x":0.3142,"y":0,"a":180,"s":13.2},{"x":0.6283,"y":0,"a":180,"s":13.1},{"x":0.9425,"y":0,"a":180,"s":13},{"x":1.2566,"y":0,"a":180,"s":12.8},{"x":1.5708,"y":0,"a":180,"s":12.3},{"x":1.885,"y":0,"a":180,"s":11.9},{"x":2.1991,"y":0,"a":180,"s":11.2},{"x":2.5133,"y":0,"a":180,"s":10.8},{"x":2.8274,"y":0,"a":180,"s":10.1},{"x":3.1416,"y":0,"a":180,"s":9.4},
{"x":-3.1416,"y":-0.3142,"a":184,"s":8.4},{"x":-2.8274,"y":-0.3142,"a":184,"s":9.1},{"x":-2.5133,"y":-0.3142,"a":183,"s":9.7},{"x":-2.1991,"y":-0.3142,"a":183,"s":10.1},{"x":-1.885,"y":-0.3142,"a":182,"s":10.6},{"x":-1.5708,"y":-0.3142,"a":182,"s":11.1},{"x":-1.2566,"y":-0.3142,"a":182,"s":11.5},{"x":-0.9425,"y":-0.3142,"a":181,"s":11.8},{"x":-0.6283,"y":-0.3142,"a":181,"s":11.8},{"x":-0.3142,"y":-0.3142,"a":180,"s":11.8},{"x":0,"y":-0.3142,"a":180,"s":11.8},{"x":0.3142,"y":-0.3142,"a":180,"s":11.8},{"x":0.6283,"y":-0.3142,"a":179,"s":11.8},{"x":0.9425,"y":-0.3142,"a":179,"s":11.8},{"x":1.2566,"y":-0.3142,"a":178,"s":11.5},{"x":1.5708,"y":-0.3142,"a":178,"s":11.1},{"x":1.885,"y":-0.3142,"a":178,"s":10.6},{"x":2.1991,"y":-0.3142,"a":177,"s":10.1},{"x":2.5133,"y":-0.3142,"a":177,"s":9.7},{"x":2.8274,"y":-0.3142,"a":176,"s":9.1},{"x":3.1416,"y":-0.3142,"a":176,"s":8.4},
{"x":-3.1416,"y":-0.6283,"a":188,"s":5.7},{"x":-2.8274,"y":-0.6283,"a":187,"s":6.1},{"x":-2.5133,"y":-0.6283,"a":186,"s":6.5},{"x":-2.1991,"y":-0.6283,"a":186,"s":6.8},{"x":-1.885,"y":-0.6283,"a":185,"s":7.1},{"x":-1.5708,"y":-0.6283,"a":184,"s":7.4},{"x":-1.2566,"y":-0.6283,"a":183,"s":7.6},{"x":-0.9425,"y":-0.6283,"a":182,"s":7.8},{"x":-0.6283,"y":-0.6283,"a":182,"s":8},{"x":-0.3142,"y":-0.6283,"a":181,"s":8.1},{"x":0,"y":-0.6283,"a":180,"s":8.1},{"x":0.3142,"y":-0.6283,"a":179,"s":8.1},{"x":0.6283,"y":-0.6283,"a":178,"s":8},{"x":0.9425,"y":-0.6283,"a":178,"s":7.8},{"x":1.2566,"y":-0.6283,"a":177,"s":7.6},{"x":1.5708,"y":-0.6283,"a":176,"s":7.4},{"x":1.885,"y":-0.6283,"a":175,"s":7.1},{"x":2.1991,"y":-0.6283,"a":174,"s":6.8},{"x":2.5133,"y":-0.6283,"a":174,"s":6.5},{"x":2.8274,"y":-0.6283,"a":173,"s":6.1},{"x":3.1416,"y":-0.6283,"a":172,"s":5.7},
{"x":-3.1416,"y":-0.9425,"a":202,"s":2.6},{"x":-2.8274,"y":-0.9425,"a":200,"s":2.7},{"x":-2.5133,"y":-0.9425,"a":197,"s":2.8},{"x":-2.1991,"y":-0.9425,"a":194,"s":2.9},{"x":-1.885,"y":-0.9425,"a":191,"s":3},{"x":-1.5708,"y":-0.9425,"a":189,"s":3.2},{"x":-1.2566,"y":-0.9425,"a":187,"s":3.3},{"x":-0.9425,"y":-0.9425,"a":185,"s":3.4},{"x":-0.6283,"y":-0.9425,"a":183,"s":3.4},{"x":-0.3142,"y":-0.9425,"a":182,"s":3.5},{"x":0,"y":-0.9425,"a":180,"s":3.5},{"x":0.3142,"y":-0.9425,"a":178,"s":3.5},{"x":0.6283,"y":-0.9425,"a":177,"s":3.4},{"x":0.9425,"y":-0.9425,"a":175,"s":3.4},{"x":1.2566,"y":-0.9425,"a":173,"s":3.3},{"x":1.5708,"y":-0.9425,"a":171,"s":3.2},{"x":1.885,"y":-0.9425,"a":169,"s":3},{"x":2.1991,"y":-0.9425,"a":166,"s":2.9},{"x":2.5133,"y":-0.9425,"a":163,"s":2.8},{"x":2.8274,"y":-0.9425,"a":160,"s":2.7},{"x":3.1416,"y":-0.9425,"a":158,"s":2.6},
{"x":-3.1416,"y":-1.2566,"a":-90,"s":0.85},{"x":-2.8274,"y":-1.2566,"a":-82,"s":0.85},{"x":-2.5133,"y":-1.2566,"a":-76,"s":0.72},{"x":-2.1991,"y":-1.2566,"a":-70,"s":0.65},{"x":-1.885,"y":-1.2566,"a":-62,"s":0.58},{"x":-1.5708,"y":-1.2566,"a":-52,"s":0.53},{"x":-1.2566,"y":-1.2566,"a":-42,"s":0.48},{"x":-0.9425,"y":-1.2566,"a":-30,"s":0.43},{"x":-0.6283,"y":-1.2566,"a":-20,"s":0.4},{"x":-0.3142,"y":-1.2566,"a":-10,"s":0.35},{"x":0,"y":-1.2566,"a":0,"s":0.3},{"x":0.3142,"y":-1.2566,"a":10,"s":0.35},{"x":0.6283,"y":-1.2566,"a":20,"s":0.4},{"x":0.9425,"y":-1.2566,"a":30,"s":0.43},{"x":1.2566,"y":-1.2566,"a":42,"s":0.48},{"x":1.5708,"y":-1.2566,"a":52,"s":0.53},{"x":1.885,"y":-1.2566,"a":62,"s":0.58},{"x":2.1991,"y":-1.2566,"a":70,"s":0.65},{"x":2.5133,"y":-1.2566,"a":76,"s":0.72},{"x":2.8274,"y":-1.2566,"a":82,"s":0.85},{"x":3.1416,"y":-1.2566,"a":90,"s":0.85},
{"x":-3.1416,"y":-1.5708,"a":-20,"s":1.8},{"x":-2.8274,"y":-1.5708,"a":-15,"s":2},{"x":-2.5133,"y":-1.5708,"a":-11,"s":2.1},{"x":-2.1991,"y":-1.5708,"a":-9,"s":2.2},{"x":-1.885,"y":-1.5708,"a":-7,"s":2.3},{"x":-1.5708,"y":-1.5708,"a":-5,"s":2.4},{"x":-1.2566,"y":-1.5708,"a":-4,"s":2.4},{"x":-0.9425,"y":-1.5708,"a":-3,"s":2.5},{"x":-0.6283,"y":-1.5708,"a":-2,"s":2.5},{"x":-0.3142,"y":-1.5708,"a":-1,"s":2.5},{"x":0,"y":-1.5708,"a":0,"s":2.5},{"x":0.3142,"y":-1.5708,"a":1,"s":2.5},{"x":0.6283,"y":-1.5708,"a":2,"s":2.5},{"x":0.9425,"y":-1.5708,"a":3,"s":2.5},{"x":1.2566,"y":-1.5708,"a":4,"s":2.4},{"x":1.5708,"y":-1.5708,"a":5,"s":2.4},{"x":1.885,"y":-1.5708,"a":7,"s":2.3},{"x":2.1991,"y":-1.5708,"a":9,"s":2.2},{"x":2.5133,"y":-1.5708,"a":11,"s":2.1},{"x":2.8274,"y":-1.5708,"a":15,"s":2},{"x":3.1416,"y":-1.5708,"a":20,"s":1.8},
{"x":-3.1416,"y":-1.885,"a":-14,"s":2.2},{"x":-2.8274,"y":-1.885,"a":-11,"s":2.4},{"x":-2.5133,"y":-1.885,"a":-8,"s":2.55},{"x":-2.1991,"y":-1.885,"a":-6,"s":2.7},{"x":-1.885,"y":-1.885,"a":-4,"s":2.8},{"x":-1.5708,"y":-1.885,"a":-3,"s":2.9},{"x":-1.2566,"y":-1.885,"a":-2,"s":2.95},{"x":-0.9425,"y":-1.885,"a":-2,"s":3},{"x":-0.6283,"y":-1.885,"a":-1,"s":3.05},{"x":-0.3142,"y":-1.885,"a":-1,"s":3.1},{"x":0,"y":-1.885,"a":0,"s":3.1},{"x":0.3142,"y":-1.885,"a":1,"s":3.1},{"x":0.6283,"y":-1.885,"a":1,"s":3.05},{"x":0.9425,"y":-1.885,"a":2,"s":3},{"x":1.2566,"y":-1.885,"a":2,"s":2.95},{"x":1.5708,"y":-1.885,"a":3,"s":2.9},{"x":1.885,"y":-1.885,"a":4,"s":2.8},{"x":2.1991,"y":-1.885,"a":6,"s":2.7},{"x":2.5133,"y":-1.885,"a":8,"s":2.55},{"x":2.8274,"y":-1.885,"a":11,"s":2.4},{"x":3.1416,"y":-1.885,"a":14,"s":2.2},
{"x":-3.1416,"y":-2.1991,"a":-8,"s":1.9},{"x":-2.8274,"y":-2.1991,"a":-6,"s":2.1},{"x":-2.5133,"y":-2.1991,"a":-5,"s":2.2},{"x":-2.1991,"y":-2.1991,"a":-4,"s":2.3},{"x":-1.885,"y":-2.1991,"a":-3,"s":2.4},{"x":-1.5708,"y":-2.1991,"a":-2,"s":2.5},{"x":-1.2566,"y":-2.1991,"a":-1,"s":2.55},{"x":-0.9425,"y":-2.1991,"a":-1,"s":2.6},{"x":-0.6283,"y":-2.1991,"a":0,"s":2.6},{"x":-0.3142,"y":-2.1991,"a":0,"s":2.6},{"x":0,"y":-2.1991,"a":0,"s":2.6},{"x":0.3142,"y":-2.1991,"a":0,"s":2.6},{"x":0.6283,"y":-2.1991,"a":0,"s":2.6},{"x":0.9425,"y":-2.1991,"a":1,"s":2.6},{"x":1.2566,"y":-2.1991,"a":1,"s":2.55},{"x":1.5708,"y":-2.1991,"a":2,"s":2.5},{"x":1.885,"y":-2.1991,"a":3,"s":2.4},{"x":2.1991,"y":-2.1991,"a":4,"s":2.3},{"x":2.5133,"y":-2.1991,"a":5,"s":2.2},{"x":2.8274,"y":-2.1991,"a":6,"s":2.1},{"x":3.1416,"y":-2.1991,"a":8,"s":1.9},
{"x":-3.1416,"y":-2.5133,"a":-4,"s":1.2},{"x":-2.8274,"y":-2.5133,"a":-3,"s":1.4},{"x":-2.5133,"y":-2.5133,"a":-3,"s":1.5},{"x":-2.1991,"y":-2.5133,"a":-2,"s":1.6},{"x":-1.885,"y":-2.5133,"a":-1,"s":1.7},{"x":-1.5708,"y":-2.5133,"a":-1,"s":1.75},{"x":-1.2566,"y":-2.5133,"a":0,"s":1.8},{"x":-0.9425,"y":-2.5133,"a":0,"s":1.8},{"x":-0.6283,"y":-2.5133,"a":0,"s":1.8},{"x":-0.3142,"y":-2.5133,"a":0,"s":1.8},{"x":0,"y":-2.5133,"a":0,"s":1.8},{"x":0.3142,"y":-2.5133,"a":0,"s":1.8},{"x":0.6283,"y":-2.5133,"a":0,"s":1.8},{"x":0.9425,"y":-2.5133,"a":0,"s":1.8},{"x":1.2566,"y":-2.5133,"a":0,"s":1.8},{"x":1.5708,"y":-2.5133,"a":1,"s":1.75},{"x":1.885,"y":-2.5133,"a":1,"s":1.7},{"x":2.1991,"y":-2.5133,"a":2,"s":1.6},{"x":2.5133,"y":-2.5133,"a":3,"s":1.5},{"x":2.8274,"y":-2.5133,"a":3,"s":1.4},{"x":3.1416,"y":-2.5133,"a":4,"s":1.2},
{"x":-3.1416,"y":-2.8274,"a":-2,"s":0.7},{"x":-2.8274,"y":-2.8274,"a":-2,"s":0.8},{"x":-2.5133,"y":-2.8274,"a":-1,"s":0.85},{"x":-2.1991,"y":-2.8274,"a":-1,"s":0.9},{"x":-1.885,"y":-2.8274,"a":-1,"s":0.95},{"x":-1.5708,"y":-2.8274,"a":0,"s":1},{"x":-1.2566,"y":-2.8274,"a":0,"s":1.05},{"x":-0.9425,"y":-2.8274,"a":0,"s":1.05},{"x":-0.6283,"y":-2.8274,"a":0,"s":1.05},{"x":-0.3142,"y":-2.8274,"a":0,"s":1.05},{"x":0,"y":-2.8274,"a":0,"s":1.05},{"x":0.3142,"y":-2.8274,"a":0,"s":1.05},{"x":0.6283,"y":-2.8274,"a":0,"s":1.05},{"x":0.9425,"y":-2.8274,"a":0,"s":1.05},{"x":1.2566,"y":-2.8274,"a":0,"s":1.05},{"x":1.5708,"y":-2.8274,"a":0,"s":1},{"x":1.885,"y":-2.8274,"a":1,"s":0.95},{"x":2.1991,"y":-2.8274,"a":1,"s":0.9},{"x":2.5133,"y":-2.8274,"a":1,"s":0.85},{"x":2.8274,"y":-2.8274,"a":2,"s":0.8},{"x":3.1416,"y":-2.8274,"a":2,"s":0.7},
{"x":-3.1416,"y":-3.1416,"a":0,"s":0.3},{"x":-2.8274,"y":-3.1416,"a":0,"s":0.3},{"x":-2.5133,"y":-3.1416,"a":0,"s":0.35},{"x":-2.1991,"y":-3.1416,"a":0,"s":0.35},{"x":-1.885,"y":-3.1416,"a":0,"s":0.4},{"x":-1.5708,"y":-3.1416,"a":0,"s":0.4},{"x":-1.2566,"y":-3.1416,"a":0,"s":0.4},{"x":-0.9425,"y":-3.1416,"a":0,"s":0.4},{"x":-0.6283,"y":-3.1416,"a":0,"s":0.4},{"x":-0.3142,"y":-3.1416,"a":0,"s":0.4},{"x":0,"y":-3.1416,"a":0,"s":0.4},{"x":0.3142,"y":-3.1416,"a":0,"s":0.4},{"x":0.6283,"y":-3.1416,"a":0,"s":0.4},{"x":0.9425,"y":-3.1416,"a":0,"s":0.4},{"x":1.2566,"y":-3.1416,"a":0,"s":0.4},{"x":1.5708,"y":-3.1416,"a":0,"s":0.4},{"x":1.885,"y":-3.1416,"a":0,"s":0.4},{"x":2.1991,"y":-3.1416,"a":0,"s":0.35},{"x":2.5133,"y":-3.1416,"a":0,"s":0.35},{"x":2.8274,"y":-3.1416,"a":0,"s":0.3},{"x":3.1416,"y":-3.1416,"a":0,"s":0.3}
]
},
"layer":[
{"data":{"name":"contours"},
 "mark":{"type":"line","color":"black","strokeWidth":1,"clip":true},
 "encoding":{
  "x":{"field":"x","type":"quantitative","scale":{"domain":[-3.1416,3.1112],"nice":false,"zero":false},
   "axis":{"orient":"bottom","values":[-3,-2,-1,0,1,2,3],"labelExpr":"datum.value < 0 ? '-' + abs(datum.value) : '' + datum.value","title":"x","grid":false,"domain":true,"domainColor":"black","domainWidth":1.5,"ticks":true,"tickColor":"black","tickSize":-11,"tickWidth":1,"labelFont":"Liberation Sans","labelFontSize":38,"labelColor":"black","labelPadding":63,"labelBaseline":"alphabetic","labelAlign":{"condition":{"test":"datum.value < 0","value":"right"},"value":"center"},"labelFlush":false,"labelOverlap":false,"titleFont":"Liberation Sans","titleFontSize":45,"titleFontWeight":"normal","titleColor":"black","titlePadding":-2}},
  "y":{"field":"y","type":"quantitative","scale":{"domain":[-3.1416,3.1416],"nice":false,"zero":false},
   "axis":{"orient":"left","values":[-3,-2,-1,0,1,2,3],"labelExpr":"datum.value < 0 ? '-' + abs(datum.value) : '' + datum.value","title":"y","grid":false,"domain":true,"domainColor":"black","domainWidth":1.5,"ticks":true,"tickColor":"black","tickSize":-11,"tickWidth":1,"labelFont":"Liberation Sans","labelFontSize":38,"labelColor":"black","labelPadding":{"condition":{"test":"datum.value < 0","value":32},"value":18},"labelBaseline":"middle","labelFlush":false,"labelOverlap":false,"titleFont":"Liberation Sans","titleFontSize":45,"titleFontWeight":"normal","titleColor":"black","titlePadding":6}},
  "detail":{"field":"c","type":"nominal"},
  "order":{"field":"i","type":"quantitative"}
 }},
{"data":{"name":"arrows"},
 "mark":{"type":"point","shape":"M0,0L2,0M1.34,-0.18L2,0L1.34,0.18","filled":false,"color":"black","strokeWidth":1,"opacity":1,"clip":true},
 "encoding":{
  "x":{"field":"x","type":"quantitative","axis":{"orient":"top","values":[-3,-2,-1,0,1,2,3],"labels":false,"title":null,"grid":false,"domain":true,"domainColor":"black","domainWidth":1,"ticks":true,"tickColor":"black","tickSize":-11,"tickWidth":1}},
  "y":{"field":"y","type":"quantitative","axis":null},
  "angle":{"field":"a","type":"quantitative","scale":{"domain":[0,360],"range":[0,-360]}},
  "size":{"field":"s","type":"quantitative","scale":{"type":"pow","exponent":2,"domain":[0,10],"range":[0,10000]},"legend":null}
 }}
],
"resolve":{"axis":{"x":"independent","y":"independent"}}
}
